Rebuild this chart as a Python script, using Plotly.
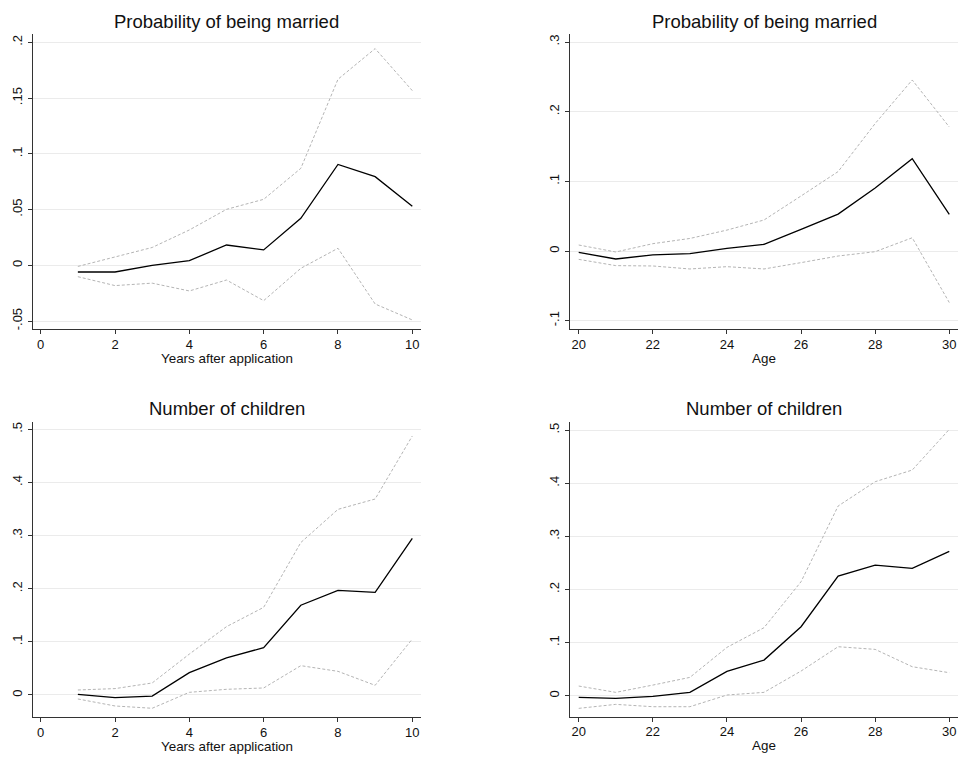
import plotly.graph_objects as go

# ---------------- data ----------------
years = [1, 2, 3, 4, 5, 6, 7, 8, 9, 10]
ages = [20, 21, 22, 23, 24, 25, 26, 27, 28, 29, 30]

married_years_est = [-0.006, -0.006, 0.0, 0.0042, 0.0182, 0.0138, 0.0422, 0.0905, 0.0795, 0.0529]
married_years_hi = [-0.001, 0.0078, 0.016, 0.0317, 0.0502, 0.0592, 0.087, 0.1669, 0.1944, 0.1567]
married_years_lo = [-0.0102, -0.0182, -0.016, -0.023, -0.0132, -0.0317, -0.0027, 0.0153, -0.0347, -0.049]

married_age_est = [-0.002, -0.0115, -0.0057, -0.0038, 0.0038, 0.0096, 0.031, 0.053, 0.0904, 0.1325, 0.0526]
married_age_hi = [0.0086, -0.0014, 0.0105, 0.018, 0.030, 0.0445, 0.079, 0.114, 0.183, 0.2455, 0.178]
married_age_lo = [-0.012, -0.021, -0.0215, -0.0258, -0.0225, -0.0258, -0.0167, -0.0072, -0.001, 0.019, -0.074]

children_years_est = [0.001, -0.005, -0.002, 0.042, 0.070, 0.089, 0.169, 0.197, 0.193, 0.295]
children_years_hi = [0.0094, 0.012, 0.0226, 0.077, 0.1286, 0.165, 0.287, 0.3494, 0.3689, 0.4875]
children_years_lo = [-0.0075, -0.0207, -0.025, 0.005, 0.0107, 0.0132, 0.0552, 0.0445, 0.0182, 0.1054]

children_age_est = [-0.003, -0.005, -0.0013, 0.0063, 0.0458, 0.0671, 0.1299, 0.2252, 0.2459, 0.2396, 0.2716]
children_age_hi = [0.0182, 0.0063, 0.020, 0.0345, 0.091, 0.128, 0.2146, 0.357, 0.4028, 0.4247, 0.5013]
children_age_lo = [-0.0238, -0.0163, -0.0207, -0.0207, 0.0013, 0.0063, 0.0464, 0.0922, 0.0872, 0.0546, 0.0433]

titles = ["Probability of being married", "Probability of being married",
          "Number of children", "Number of children"]
xtitles = ["Years after application", "Age", "Years after application", "Age"]

x_years_ticks = [0, 2, 4, 6, 8, 10]
x_age_ticks = [20, 22, 24, 26, 28, 30]

y1_ticks = [-0.05, 0, 0.05, 0.1, 0.15, 0.2]
y1_text = ["-.05", "0", ".05", ".1", ".15", ".2"]
y2_ticks = [-0.1, 0, 0.1, 0.2, 0.3]
y2_text = ["-.1", "0", ".1", ".2", ".3"]
y34_ticks = [0, 0.1, 0.2, 0.3, 0.4, 0.5]
y34_text = ["0", ".1", ".2", ".3", ".4", ".5"]

# ---------------- figure ----------------
W, H = 959, 758
FONT = "Liberation Sans, Arial, sans-serif"
EST_COLOR = "#000000"
CI_COLOR = "#b4b4b4"
GRID = "#ebebeb"
AXIS = "#333333"

panels = [
    dict(x=years, est=married_years_est, hi=married_years_hi, lo=married_years_lo,
         xr=[-0.215, 10.226], yr=[-0.0574, 0.2075], xt=x_years_ticks, yt=y1_ticks, ytt=y1_text,
         dx=[32.7, 420.7], dy=[34, 329.3]),
    dict(x=ages, est=married_age_est, hi=married_age_hi, lo=married_age_lo,
         xr=[19.765, 30.235], yr=[-0.1124, 0.3115], xt=x_age_ticks, yt=y2_ticks, ytt=y2_text,
         dx=[570, 958], dy=[34, 329.3]),
    dict(x=years, est=children_years_est, hi=children_years_hi, lo=children_years_lo,
         xr=[-0.215, 10.226], yr=[-0.042, 0.5144], xt=x_years_ticks, yt=y34_ticks, ytt=y34_text,
         dx=[32.7, 420.7], dy=[421.7, 717.3]),
    dict(x=ages, est=children_age_est, hi=children_age_hi, lo=children_age_lo,
         xr=[19.765, 30.235], yr=[-0.0395, 0.5157], xt=x_age_ticks, yt=y34_ticks, ytt=y34_text,
         dx=[570, 958], dy=[421.7, 716.7]),
]

def px_x(v):
    return v / W

def px_y(v):
    return 1 - v / H

fig = go.Figure()
annotations = []
for i, p in enumerate(panels):
    n = "" if i == 0 else str(i + 1)
    xa, ya = "x" + n, "y" + n
    for ys, col, dash, w in [(p["hi"], CI_COLOR, "3px,2px", 1),
                             (p["lo"], CI_COLOR, "3px,2px", 1),
                             (p["est"], EST_COLOR, "solid", 1.3)]:
        fig.add_trace(go.Scatter(x=p["x"], y=ys, mode="lines", xaxis=xa, yaxis=ya,
                                 line=dict(color=col, width=w, dash=dash),
                                 showlegend=False, hoverinfo="skip", cliponaxis=False))
    xdom = [px_x(p["dx"][0]), min(px_x(p["dx"][1]), 1.0)]
    ydom = [px_y(p["dy"][1]), px_y(p["dy"][0])]
    fig.layout["xaxis" + n] = dict(
        domain=xdom, range=p["xr"], anchor=ya, tickvals=p["xt"],
        showgrid=False, zeroline=False, showline=True, linecolor=AXIS, linewidth=1,
        ticks="outside", ticklen=4, tickcolor=AXIS, tickwidth=1, ticklabeloverflow="allow",
        ticklabelstandoff=-1,
        tickfont=dict(family=FONT, size=13, color="#111"))
    fig.layout["yaxis" + n] = dict(
        domain=ydom, range=p["yr"], anchor=xa, tickvals=p["yt"], ticktext=p["ytt"],
        showgrid=True, gridcolor=GRID, gridwidth=1.3, zeroline=False,
        showline=True, linecolor=AXIS, linewidth=1,
        ticks="outside", ticklen=4, tickcolor=AXIS, tickwidth=1, tickangle=-90,
        ticklabelstandoff=1,
        tickfont=dict(family=FONT, size=13, color="#111"))
    cx = px_x((p["dx"][0] + p["dx"][1]) / 2)
    annotations.append(dict(text=titles[i], x=cx, y=px_y(p["dy"][0] - 13),
                            xref="paper", yref="paper", xanchor="center", yanchor="middle",
                            showarrow=False, font=dict(family=FONT, size=18.5, color="#111")))
    annotations.append(dict(text=xtitles[i], x=cx, y=px_y(p["dy"][1] + 29),
                            xref="paper", yref="paper", xanchor="center", yanchor="middle",
                            showarrow=False, font=dict(family=FONT, size=13.4, color="#111")))

fig.update_layout(width=W, height=H, margin=dict(l=0, r=0, t=0, b=0),
                  paper_bgcolor="white", plot_bgcolor="white",
                  annotations=annotations, showlegend=False)
fig.write_html("out.html", config={"displayModeBar": False},
               post_script="document.body.style.margin='0';document.body.style.overflow='hidden';")
